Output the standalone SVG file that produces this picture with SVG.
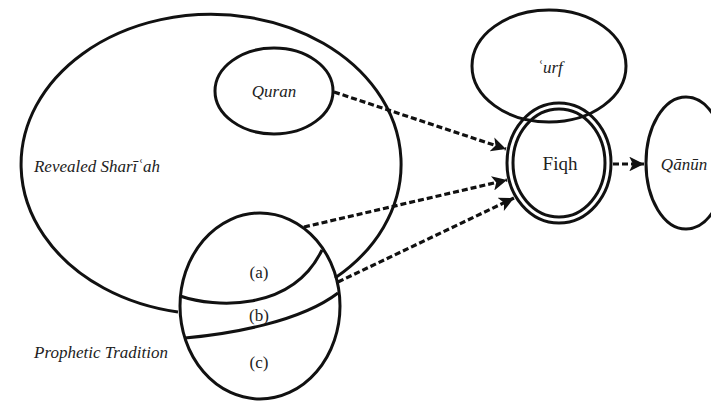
<svg xmlns="http://www.w3.org/2000/svg" width="711" height="404" viewBox="0 0 711 404">
<style>
.n{fill:none;stroke:#111;stroke-width:3}
.t{font-family:"Liberation Serif","DejaVu Serif",serif;fill:#222;text-anchor:middle}
.i{font-style:italic}
.c{fill:none;stroke:#111;stroke-width:3.2;stroke-dasharray:6 3}
</style>
<defs>
<marker id="ah" viewBox="0 0 10 10" refX="10" refY="5" markerWidth="6" markerHeight="4.6" markerUnits="strokeWidth" orient="auto">
<path d="M0,0 L10,5 L0,10 L2.5,5 z" fill="#111"/>
</marker>
</defs>
<rect width="711" height="404" fill="#fff"/>
<g id="revealed">
<path class="n" d="M178,312 A190,150 0 1 1 335,278"/>
<text class="t i" x="97" y="172" font-size="17">Revealed Sharīʿah</text>
</g>
<g id="quran">
<ellipse class="n" cx="274" cy="91" rx="59" ry="43"/>
<text class="t i" x="274" y="97" font-size="17">Quran</text>
</g>
<g id="prophetic">
<ellipse class="n" cx="260" cy="306" rx="80" ry="93"/>
<path class="n" d="M180,296 C215,308 292,312 322,250"/>
<path class="n" d="M185,338 C230,334 300,322 338,293"/>
<text class="t" x="259" y="278" font-size="17">(a)</text>
<text class="t" x="259" y="321" font-size="17">(b)</text>
<text class="t" x="259" y="368" font-size="17">(c)</text>
<text class="t i" x="101" y="358" font-size="17">Prophetic Tradition</text>
</g>
<g id="urf">
<ellipse class="n" cx="549" cy="66" rx="77" ry="56"/>
<text class="t i" x="550" y="73" font-size="17">ʿurf</text>
</g>
<g id="fiqh">
<ellipse class="n" cx="559" cy="163" rx="52" ry="60"/>
<ellipse class="n" cx="559" cy="163" rx="46" ry="54"/>
<text class="t" x="560" y="170" font-size="19">Fiqh</text>
</g>
<g id="qanun">
<ellipse class="n" cx="686" cy="163" rx="40" ry="66"/>
<text class="t i" x="684" y="170" font-size="17">Qānūn</text>
</g>
<g id="connectors">
<path class="c" d="M334,92 L506,149" marker-end="url(#ah)"/>
<path class="c" d="M304,227 L507,180" marker-end="url(#ah)"/>
<path class="c" d="M338,282 L514,198" marker-end="url(#ah)"/>
<path class="c" d="M613,164 L644,164" marker-end="url(#ah)"/>
</g>
</svg>
